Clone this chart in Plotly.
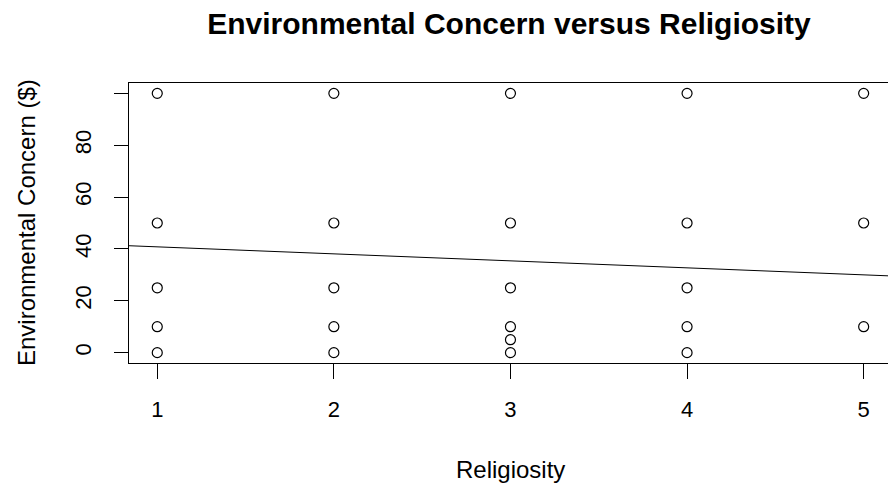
import plotly.graph_objects as go

# Survey responses: religiosity score and amount given to environmental causes ($)
religiosity = [1, 1, 1, 1, 1,
               2, 2, 2, 2, 2,
               3, 3, 3, 3, 3, 3,
               4, 4, 4, 4, 4,
               5, 5, 5]
concern = [100, 50, 25, 10, 0,
           100, 50, 25, 10, 0,
           100, 50, 25, 10, 5, 0,
           100, 50, 25, 10, 0,
           100, 50, 10]

# Least-squares fit line (concern = intercept + slope * religiosity)
fit_intercept = 43.5
fit_slope = -2.7

x_ticks = [1, 2, 3, 4, 5]
y_ticks = [0, 20, 40, 60, 80, 100]
y_tick_text = ["0", "20", "40", "60", "80", ""]

W, H = 888, 483
L, T, B = 129, 83, 120
px_per_unit = 176.6
x_lo = 0.84
x_hi = x_lo + (W - L) / px_per_unit
y_lo, y_hi = -4, 104

FONT = "Liberation Sans, Arial, sans-serif"

fig = go.Figure()

fig.add_trace(go.Scatter(
    x=[x_lo, x_hi],
    y=[fit_intercept + fit_slope * x_lo, fit_intercept + fit_slope * x_hi],
    mode="lines",
    line=dict(color="black", width=1),
    hoverinfo="skip",
    showlegend=False,
))

fig.add_trace(go.Scatter(
    x=religiosity, y=concern,
    mode="markers",
    marker=dict(symbol="circle-open", size=10, color="black",
                line=dict(color="black", width=1.2)),
    showlegend=False,
))

fig.update_layout(
    width=W, height=H,
    margin=dict(l=L, r=0, t=T, b=B, pad=0),
    paper_bgcolor="white", plot_bgcolor="white",
    font=dict(family=FONT, color="black"),
    title=dict(text="<b>Environmental Concern versus Religiosity</b>",
               font=dict(size=30, family=FONT, color="black"),
               xref="container", x=509 / W, xanchor="center",
               yref="container", y=1 - 23.5 / H, yanchor="middle"),
    xaxis=dict(range=[x_lo, x_hi], tickvals=x_ticks,
               showgrid=False, zeroline=False,
               showline=True, linecolor="black", linewidth=1, mirror=True,
               ticks="outside", ticklen=15, tickwidth=1, tickcolor="black",
               tickfont=dict(size=22, color="black"),
               ticklabelstandoff=12),
    yaxis=dict(range=[y_lo, y_hi], tickvals=y_ticks, ticktext=y_tick_text,
               showgrid=False, zeroline=False,
               showline=True, linecolor="black", linewidth=1, mirror=False,
               ticks="outside", ticklen=14, tickwidth=1, tickcolor="black",
               tickangle=-90,
               tickfont=dict(size=22, color="black"),
               ticklabelstandoff=14),
    annotations=[
        dict(text="Religiosity", xref="x", x=3, yref="paper", y=0,
             xanchor="center", yanchor="middle", yshift=-106,
             showarrow=False, font=dict(size=24, family=FONT, color="black")),
        dict(text="Environmental Concern ($)", xref="paper", x=0,
             yref="paper", y=0.5, xanchor="center", yanchor="middle",
             xshift=-(L - 26), textangle=-90,
             showarrow=False, font=dict(size=24, family=FONT, color="black")),
    ],
)

fig.write_html("out.html")
